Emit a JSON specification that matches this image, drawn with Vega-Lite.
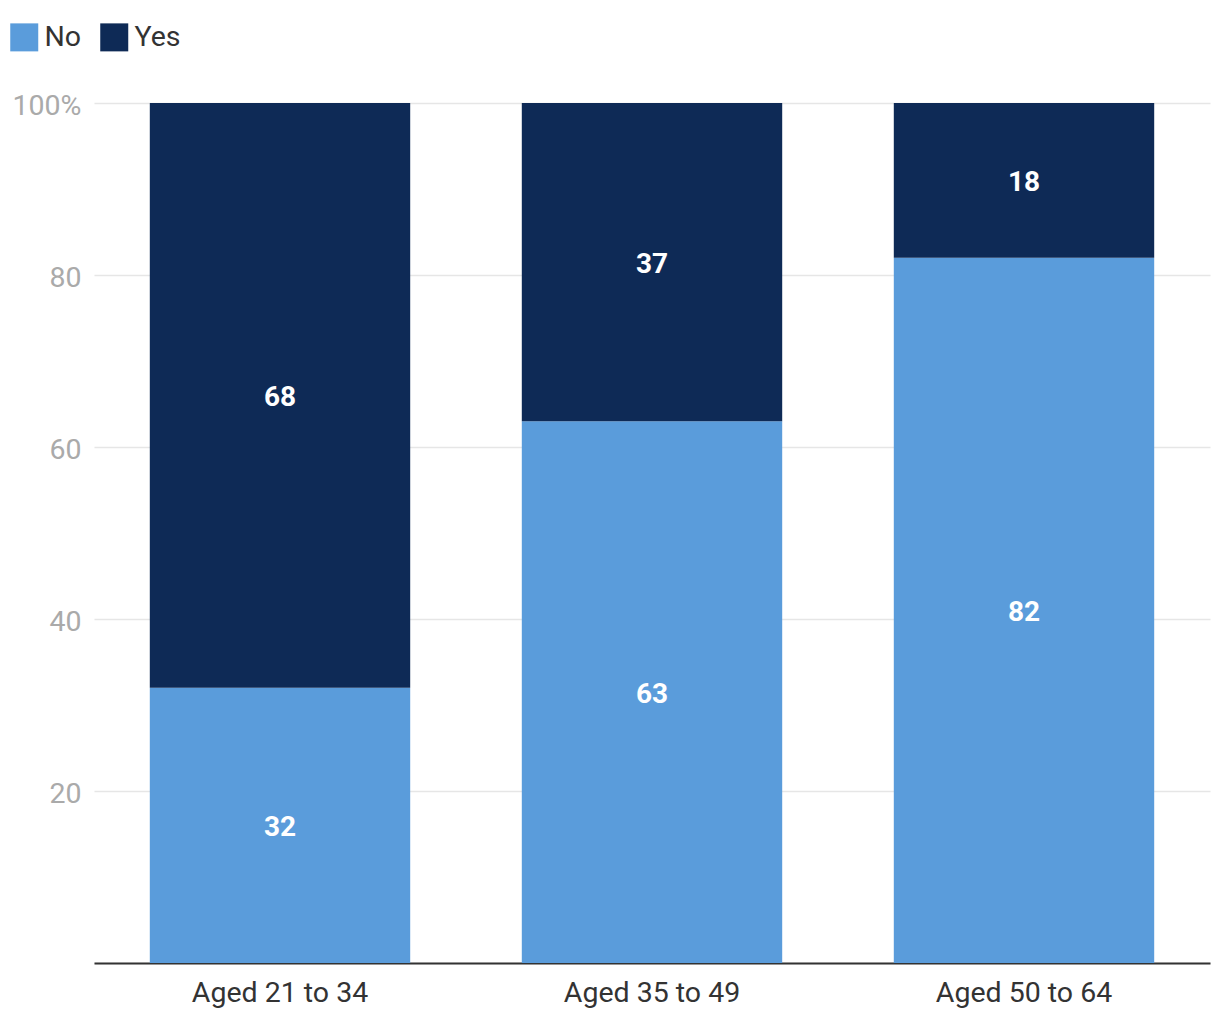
{
  "$schema": "https://vega.github.io/schema/vega-lite/v6.json",
  "width": 1116,
  "height": 860,
  "autosize": {"type": "none"},
  "padding": {"left": 94, "top": 103, "right": 10, "bottom": 57},
  "background": "white",
  "config": {
    "font": "Roboto",
    "view": {"stroke": null}
  },
  "data": {
    "values": [
      {"group": "Aged 21 to 34", "answer": "No", "value": 32},
      {"group": "Aged 21 to 34", "answer": "Yes", "value": 68},
      {"group": "Aged 35 to 49", "answer": "No", "value": 63},
      {"group": "Aged 35 to 49", "answer": "Yes", "value": 37},
      {"group": "Aged 50 to 64", "answer": "No", "value": 82},
      {"group": "Aged 50 to 64", "answer": "Yes", "value": 18}
    ]
  },
  "transform": [
    {"stack": "value", "groupby": ["group"], "sort": [{"field": "answer", "order": "ascending"}], "as": ["y0", "y1"]},
    {"calculate": "(datum.y0 + datum.y1) / 2", "as": "ymid"}
  ],
  "encoding": {
    "x": {
      "field": "group",
      "type": "nominal",
      "title": null,
      "scale": {"paddingInner": 0.3, "paddingOuter": 0.15},
      "axis": {
        "labelAngle": 0,
        "labelFontSize": 28.5,
        "labelColor": "#333333",
        "labelPadding": 15,
        "ticks": false,
        "domainColor": "#333333",
        "domainWidth": 2,
        "grid": false
      }
    }
  },
  "layer": [
    {
      "mark": {"type": "bar"},
      "encoding": {
        "y": {
          "field": "y0",
          "type": "quantitative",
          "scale": {"domain": [0, 100], "nice": false},
          "title": null,
          "axis": {
            "values": [0, 20, 40, 60, 80, 100],
            "labelExpr": "datum.value == 0 ? '' : (datum.value == 100 ? '100%' : datum.label)",
            "labelFontSize": 28.5,
            "labelColor": "#aaaaaa",
            "labelPadding": 13,
            "labelOffset": 2,
            "ticks": false,
            "domain": false,
            "grid": true,
            "gridColor": "#e6e6e6",
            "gridWidth": 1.5
          }
        },
        "y2": {"field": "y1"},
        "color": {
          "field": "answer",
          "type": "nominal",
          "scale": {"domain": ["No", "Yes"], "range": ["#5a9cdb", "#0e2a56"]},
          "legend": {
            "title": null,
            "orient": "none",
            "legendX": -84,
            "legendY": -80,
            "direction": "horizontal",
            "symbolType": "square",
            "symbolSize": 784,
            "symbolStrokeWidth": 0,
            "labelFontSize": 28.5,
            "labelColor": "#333333",
            "labelOffset": 6,
            "columnPadding": 18
          }
        }
      }
    },
    {
      "mark": {"type": "text", "fontSize": 28, "fontWeight": "bold", "color": "white", "baseline": "middle", "align": "center", "dy": 3},
      "encoding": {
        "y": {"field": "ymid", "type": "quantitative"},
        "text": {"field": "value", "type": "quantitative"}
      }
    }
  ]
}
